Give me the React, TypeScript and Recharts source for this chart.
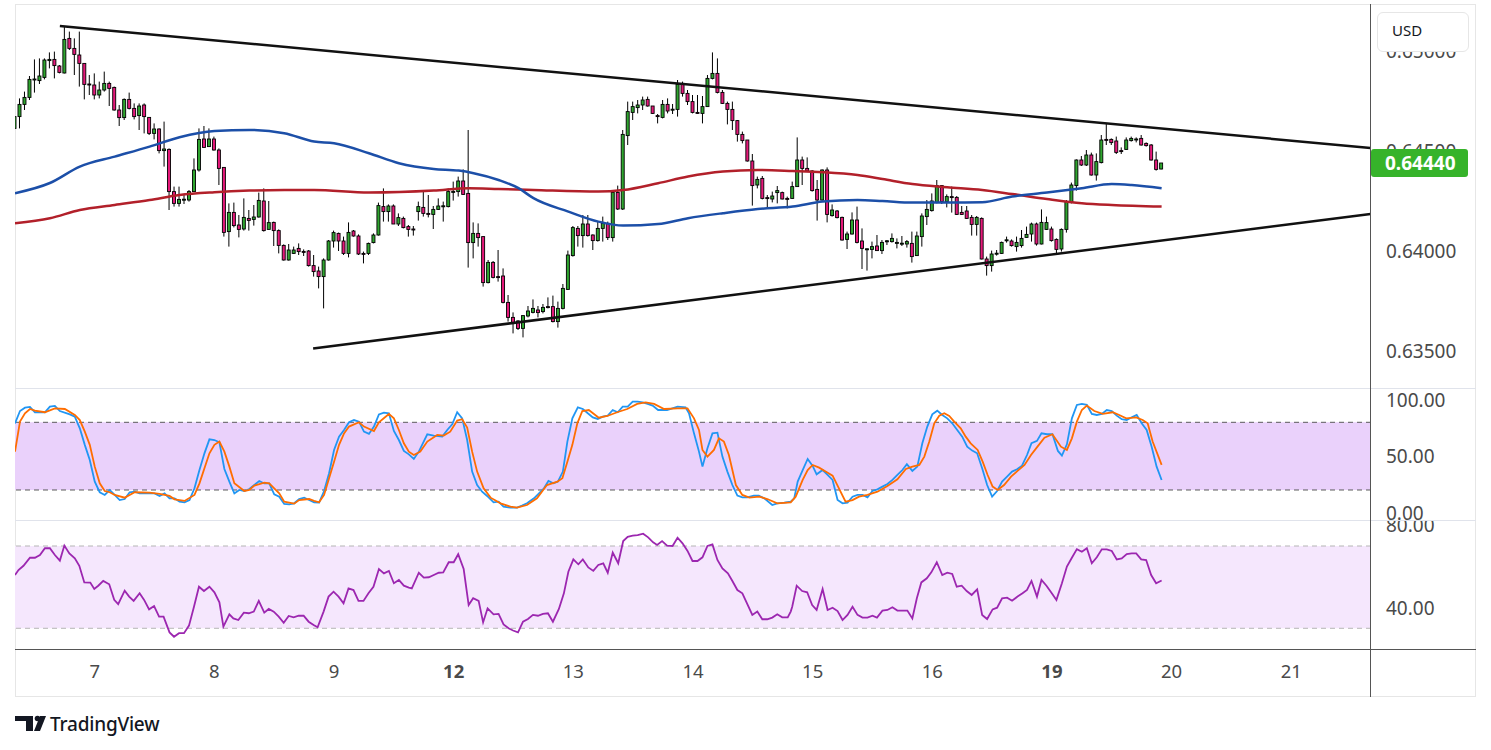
import React from 'react';
import { ComposedChart, Bar, Line, XAxis, YAxis, ReferenceLine, ReferenceArea } from 'recharts';

const FONT = "'Noto Sans', 'DejaVu Sans', sans-serif";
const AXIS_TEXT = '#4a4a4a';
const X_MAX = 272;
const UP = '#2fa52f';
const DOWN = '#e5197a';

// hourly candles: [open, high, low, close]
const candles: [number, number, number, number][] = [
  [0.64613, 0.64705, 0.6458, 0.64672], [0.64672, 0.64763, 0.64613, 0.64733], [0.64733, 0.64797, 0.64705, 0.64768],
  [0.64768, 0.64875, 0.64755, 0.64858], [0.64858, 0.64958, 0.64792, 0.6486], [0.64852, 0.64963, 0.64835, 0.64875],
  [0.64868, 0.64963, 0.64858, 0.64955], [0.64952, 0.64993, 0.64913, 0.64958], [0.64958, 0.64997, 0.64863, 0.64927],
  [0.64925, 0.6493, 0.64888, 0.64893], [0.6489, 0.65122, 0.64888, 0.65058], [0.65063, 0.65097, 0.65005, 0.65013],
  [0.65013, 0.65063, 0.6488, 0.64983], [0.6498, 0.65097, 0.64822, 0.64938], [0.64938, 0.64938, 0.64758, 0.64833],
  [0.64835, 0.6488, 0.6478, 0.64833], [0.6483, 0.64888, 0.64758, 0.6478], [0.6478, 0.64847, 0.64763, 0.64805],
  [0.64805, 0.64897, 0.64797, 0.64838], [0.64838, 0.64847, 0.64725, 0.64813], [0.64818, 0.64822, 0.64702, 0.64705],
  [0.64705, 0.6473, 0.64625, 0.64667], [0.64667, 0.64763, 0.64655, 0.64758], [0.64758, 0.64792, 0.64708, 0.64713],
  [0.64713, 0.64738, 0.64658, 0.64672], [0.64677, 0.64738, 0.64605, 0.64725], [0.6473, 0.64738, 0.64588, 0.64672],
  [0.64668, 0.64668, 0.6458, 0.64588], [0.64588, 0.64638, 0.64558, 0.6461], [0.6461, 0.64613, 0.64488, 0.64502],
  [0.64502, 0.64647, 0.64422, 0.6451], [0.64508, 0.64513, 0.64205, 0.64297], [0.64297, 0.64322, 0.64222, 0.64238],
  [0.64238, 0.64322, 0.64222, 0.64258], [0.64258, 0.6428, 0.64235, 0.64259], [0.64255, 0.64305, 0.64247, 0.64297],
  [0.64297, 0.64463, 0.64297, 0.64405], [0.64405, 0.64613, 0.64397, 0.64558], [0.6456, 0.64625, 0.64518, 0.64518],
  [0.64522, 0.64613, 0.64522, 0.6456], [0.6456, 0.64572, 0.64502, 0.64505], [0.64505, 0.64513, 0.6433, 0.64413],
  [0.64418, 0.64418, 0.64072, 0.64093], [0.64097, 0.64238, 0.64022, 0.64193], [0.64193, 0.64242, 0.64118, 0.64127],
  [0.6413, 0.6418, 0.64068, 0.64108], [0.6411, 0.64263, 0.64102, 0.64168], [0.64163, 0.64205, 0.64102, 0.64153],
  [0.64158, 0.6423, 0.64127, 0.6417], [0.6417, 0.64292, 0.64167, 0.64253], [0.6425, 0.64313, 0.64097, 0.64102],
  [0.64108, 0.6425, 0.64108, 0.64142], [0.64143, 0.64147, 0.64025, 0.64102], [0.64102, 0.64108, 0.63988, 0.64028],
  [0.64028, 0.64033, 0.63952, 0.63955], [0.63955, 0.64035, 0.63952, 0.64005], [0.63988, 0.64022, 0.63985, 0.64005],
  [0.64013, 0.64038, 0.6398, 0.63997], [0.63998, 0.64008, 0.63975, 0.63997], [0.64, 0.64005, 0.63922, 0.63927],
  [0.63927, 0.6398, 0.63872, 0.63897], [0.639, 0.63922, 0.63813, 0.63872], [0.63872, 0.63963, 0.63713, 0.63955],
  [0.63955, 0.64055, 0.63952, 0.6405], [0.6405, 0.64102, 0.64017, 0.64092], [0.64088, 0.64092, 0.64, 0.6405],
  [0.6405, 0.64072, 0.6398, 0.63988], [0.63988, 0.64143, 0.63968, 0.64093], [0.641, 0.64105, 0.64072, 0.64075],
  [0.64075, 0.64083, 0.6398, 0.63985], [0.63988, 0.63997, 0.63938, 0.63987], [0.63988, 0.64042, 0.6398, 0.64038],
  [0.64042, 0.64088, 0.64038, 0.6408], [0.6408, 0.64242, 0.64077, 0.64227], [0.64222, 0.64313, 0.64147, 0.64197],
  [0.64197, 0.64233, 0.64147, 0.64225], [0.64225, 0.64233, 0.64135, 0.64135], [0.64135, 0.64188, 0.64125, 0.64167],
  [0.64163, 0.64172, 0.64113, 0.64117], [0.64122, 0.6413, 0.64072, 0.64108], [0.6411, 0.64125, 0.64077, 0.64108],
  [0.64197, 0.64247, 0.64152, 0.64222], [0.64218, 0.64297, 0.64172, 0.64188], [0.64188, 0.6428, 0.64168, 0.64187],
  [0.64183, 0.64225, 0.6411, 0.64208], [0.64208, 0.64263, 0.64205, 0.64225], [0.64225, 0.64247, 0.64147, 0.64226],
  [0.64222, 0.64313, 0.64218, 0.64297], [0.64297, 0.64347, 0.64252, 0.64298], [0.64297, 0.64372, 0.64272, 0.6435],
  [0.6435, 0.64408, 0.6428, 0.64283], [0.64288, 0.64605, 0.63917, 0.64042], [0.64042, 0.64143, 0.63963, 0.64088],
  [0.64088, 0.64138, 0.64022, 0.64067], [0.64072, 0.64072, 0.63822, 0.63842], [0.63842, 0.63955, 0.63838, 0.63943],
  [0.63943, 0.6395, 0.63863, 0.63868], [0.63872, 0.64005, 0.63847, 0.63871], [0.63875, 0.63913, 0.63738, 0.63743],
  [0.63743, 0.6378, 0.63647, 0.63668], [0.63668, 0.63693, 0.63588, 0.63638], [0.6365, 0.63655, 0.63605, 0.63613],
  [0.63613, 0.6368, 0.63568, 0.63677], [0.63675, 0.63725, 0.63668, 0.637], [0.63693, 0.63758, 0.63688, 0.63713],
  [0.63705, 0.63725, 0.63668, 0.63692], [0.63697, 0.63735, 0.63688, 0.63718], [0.63722, 0.63768, 0.63713, 0.63721],
  [0.63722, 0.63777, 0.63643, 0.63647], [0.63647, 0.63747, 0.63617, 0.63713], [0.63713, 0.63835, 0.63708, 0.63813],
  [0.63808, 0.64002, 0.63805, 0.6398], [0.63977, 0.64125, 0.63972, 0.64117], [0.64113, 0.64125, 0.64022, 0.64077],
  [0.64077, 0.6418, 0.64017, 0.64135], [0.64135, 0.6418, 0.64072, 0.64077], [0.6408, 0.64083, 0.64005, 0.64052],
  [0.64052, 0.64147, 0.64047, 0.64113], [0.64113, 0.64172, 0.64047, 0.64138], [0.64138, 0.64147, 0.64055, 0.64067],
  [0.64067, 0.64297, 0.64047, 0.64293], [0.64293, 0.64327, 0.64205, 0.6421], [0.6421, 0.64605, 0.64205, 0.64583],
  [0.64577, 0.64747, 0.6453, 0.64697], [0.64693, 0.64747, 0.64655, 0.64722], [0.64717, 0.64755, 0.64688, 0.6473],
  [0.6473, 0.64772, 0.64705, 0.64755], [0.64758, 0.64772, 0.64722, 0.64725], [0.64725, 0.64725, 0.64685, 0.64688],
  [0.64677, 0.64685, 0.64638, 0.64676], [0.64668, 0.64755, 0.64663, 0.64733], [0.64733, 0.64763, 0.64688, 0.647],
  [0.64708, 0.64735, 0.64685, 0.64709], [0.64708, 0.64855, 0.64672, 0.64833], [0.64838, 0.64847, 0.64772, 0.64788],
  [0.64788, 0.64805, 0.6473, 0.64747], [0.64747, 0.6478, 0.64688, 0.64693], [0.64693, 0.6478, 0.64685, 0.64692],
  [0.64688, 0.64775, 0.64638, 0.64722], [0.64722, 0.6488, 0.64722, 0.64863], [0.64863, 0.64993, 0.64858, 0.64888],
  [0.64888, 0.64963, 0.64788, 0.64793], [0.64793, 0.64805, 0.64735, 0.64738], [0.64738, 0.64747, 0.64633, 0.64708],
  [0.64708, 0.64747, 0.64605, 0.64652], [0.64652, 0.64655, 0.64547, 0.64583], [0.64583, 0.64597, 0.64538, 0.64552],
  [0.64555, 0.64555, 0.64447, 0.6445], [0.6445, 0.64485, 0.64227, 0.64327], [0.6433, 0.64372, 0.64313, 0.64358],
  [0.64363, 0.64375, 0.64258, 0.64263], [0.64267, 0.6428, 0.64218, 0.64266], [0.6426, 0.64297, 0.64243, 0.64275],
  [0.64292, 0.64325, 0.64238, 0.64302], [0.64292, 0.64297, 0.64258, 0.6426], [0.64263, 0.64272, 0.64213, 0.64262],
  [0.64263, 0.64347, 0.6426, 0.64322], [0.64322, 0.64568, 0.64322, 0.64455], [0.64455, 0.64472, 0.6433, 0.64413],
  [0.64413, 0.64468, 0.64397, 0.644], [0.644, 0.64405, 0.64297, 0.64302], [0.64308, 0.64355, 0.64152, 0.64255],
  [0.64255, 0.64408, 0.64252, 0.64405], [0.64405, 0.64418, 0.64143, 0.64183], [0.64177, 0.64233, 0.64172, 0.64205],
  [0.642, 0.64205, 0.64163, 0.64167], [0.64168, 0.64172, 0.64052, 0.64055], [0.64058, 0.64097, 0.6401, 0.64085],
  [0.64085, 0.64193, 0.64082, 0.64155], [0.64155, 0.64222, 0.64038, 0.64043], [0.6405, 0.64113, 0.6391, 0.64013],
  [0.6401, 0.64013, 0.63902, 0.64011], [0.64008, 0.64047, 0.63963, 0.64022], [0.64025, 0.6408, 0.64, 0.64002],
  [0.64002, 0.64055, 0.63985, 0.64043], [0.6405, 0.64055, 0.6403, 0.64051], [0.64047, 0.64088, 0.64042, 0.64063],
  [0.64042, 0.64063, 0.64013, 0.64043], [0.64038, 0.64075, 0.64025, 0.64039], [0.64035, 0.64055, 0.64017, 0.64047],
  [0.64038, 0.64097, 0.63942, 0.63972], [0.63977, 0.64097, 0.63975, 0.64075], [0.64072, 0.64188, 0.64022, 0.64175],
  [0.64172, 0.64255, 0.6413, 0.64208], [0.64202, 0.64288, 0.64197, 0.6425], [0.64243, 0.64355, 0.64238, 0.64327],
  [0.64327, 0.6433, 0.64235, 0.64247], [0.64247, 0.64283, 0.64218, 0.64272], [0.64272, 0.64322, 0.64192, 0.64271],
  [0.64268, 0.64275, 0.6418, 0.64183], [0.64193, 0.64225, 0.6418, 0.64183], [0.642, 0.64225, 0.6416, 0.64163],
  [0.64168, 0.6418, 0.64077, 0.64133], [0.64133, 0.64175, 0.64077, 0.64168], [0.64163, 0.64168, 0.63958, 0.6396],
  [0.6396, 0.63972, 0.63877, 0.63927], [0.63927, 0.64002, 0.63897, 0.63985], [0.63988, 0.64005, 0.63977, 0.63989],
  [0.63988, 0.64047, 0.63985, 0.64043], [0.64055, 0.64072, 0.64042, 0.64056], [0.6405, 0.64058, 0.64022, 0.64027],
  [0.64022, 0.64072, 0.63997, 0.64043], [0.64027, 0.64105, 0.64017, 0.64063], [0.64068, 0.64122, 0.64067, 0.64083],
  [0.64085, 0.64142, 0.64047, 0.64135], [0.64135, 0.64142, 0.64027, 0.64035], [0.64035, 0.64208, 0.64033, 0.64143],
  [0.64108, 0.64172, 0.64105, 0.64142], [0.6411, 0.64122, 0.64047, 0.64052], [0.64058, 0.64063, 0.6398, 0.64008],
  [0.6401, 0.64113, 0.63997, 0.64108], [0.64108, 0.64255, 0.64092, 0.64247], [0.64247, 0.64342, 0.64238, 0.6433],
  [0.64327, 0.64458, 0.64302, 0.64455], [0.64455, 0.64475, 0.64425, 0.6443], [0.6443, 0.64505, 0.64425, 0.6448],
  [0.6448, 0.64492, 0.64377, 0.6438], [0.6438, 0.64488, 0.64352, 0.64447], [0.64442, 0.6458, 0.64438, 0.64555],
  [0.64558, 0.64635, 0.6453, 0.64557], [0.64558, 0.64563, 0.6453, 0.64542], [0.6455, 0.64572, 0.64485, 0.64493],
  [0.64502, 0.64518, 0.64485, 0.64501], [0.64508, 0.64568, 0.64505, 0.64555], [0.64552, 0.64572, 0.64547, 0.64563],
  [0.6456, 0.64568, 0.64543, 0.6456], [0.64563, 0.6458, 0.64527, 0.6453], [0.64538, 0.64543, 0.64522, 0.64527],
  [0.6453, 0.64535, 0.64452, 0.64455], [0.64455, 0.64497, 0.64402, 0.64408], [0.6441, 0.6444, 0.64408, 0.6444],
];

const LAST_PRICE = 0.6444;

// moving averages, [candle index, value]
const blueMa: [number, number][] = [
  [0, 0.64289], [7, 0.6434], [13, 0.64422], [20, 0.64472], [27, 0.64522], [33, 0.64569], [40, 0.646], [47, 0.64605],
  [54, 0.64589], [60, 0.64547], [64, 0.64539], [71, 0.64489], [77, 0.64439], [84, 0.6441], [89, 0.64402], [92, 0.64389],
  [97, 0.64355], [101, 0.64314], [104, 0.64264], [111, 0.64197], [117, 0.64147], [122, 0.64127], [129, 0.64135],
  [135, 0.64164], [142, 0.64189], [149, 0.6421], [156, 0.64222], [162, 0.64247], [169, 0.64255], [174, 0.6425],
  [180, 0.64242], [187, 0.64242], [194, 0.64244], [200, 0.64272], [207, 0.64292], [214, 0.64314], [220, 0.64335],
  [224, 0.6433], [230, 0.64314],
];
const redMa: [number, number][] = [
  [0, 0.64139], [7, 0.64164], [13, 0.64205], [20, 0.6423], [27, 0.64255], [33, 0.6428], [40, 0.64294], [47, 0.64302],
  [54, 0.64305], [60, 0.64305], [71, 0.64292], [84, 0.64302], [91, 0.64314], [97, 0.6431], [104, 0.64305], [117, 0.64297],
  [122, 0.64305], [129, 0.64339], [135, 0.64372], [142, 0.64397], [149, 0.64405], [156, 0.644], [162, 0.64394],
  [169, 0.6438], [174, 0.6436], [180, 0.64335], [187, 0.64319], [194, 0.64305], [200, 0.64285], [207, 0.6426],
  [214, 0.64239], [220, 0.6423], [230, 0.64222],
];

// triangle trendlines: [index, price] start / end
const upperTrend: [number, number][] = [[9, 0.65125], [271.9, 0.64515]];
const lowerTrend: [number, number][] = [[59.8, 0.63513], [271.9, 0.64185]];

const priceTicks = [0.635, 0.64, 0.645, 0.65];

// stochastic %K / %D
const stochK: [number, number][] = [
  [0, 79], [1, 90], [2, 93], [3, 93.6], [4, 88.9], [6, 88.9], [7, 93.9], [8, 94.5], [9, 90], [11, 87], [12, 85], [13, 74.7],
  [14, 60], [15, 46.6], [16, 27.4], [17, 18], [18, 15.6], [19, 20], [20, 15.6], [21, 11.1], [22, 12], [23, 18], [24, 18.5],
  [25, 17], [26, 17], [28, 17], [29, 14.7], [30, 17], [31, 12.6], [32, 12.6], [33, 9.7], [34, 9.1], [35, 11.1], [36, 21.5],
  [37, 37.7], [38, 52.5], [39, 64.9], [40, 64.3], [41, 62.3], [42, 38.6], [43, 27.4], [44, 17], [45, 20], [46, 19.1],
  [47, 20.9], [48, 24.4], [49, 28], [50, 25.8], [51, 25.8], [52, 16.2], [53, 14.1], [54, 7.6], [55, 7.3], [56, 8.2],
  [57, 12], [58, 13.2], [59, 11.1], [60, 9.1], [61, 8.8], [62, 19.1], [63, 34.8], [64, 55.5], [65, 67.3], [66, 73.2],
  [67, 80], [68, 82], [69, 80.6], [70, 71.7], [71, 69.7], [72, 76.2], [73, 87], [74, 88.6], [75, 88], [76, 72.3],
  [77, 64.3], [78, 54.6], [79, 51.6], [80, 47.5], [81, 54], [82.7, 69.4], [84, 68.2], [85.7, 67.3], [86.7, 73.2],
  [87.7, 78.2], [88.7, 88.9], [89.7, 83.5], [90.7, 64.3], [91.7, 36.3], [92.7, 24.4], [93.7, 18.5], [94.7, 14.7],
  [96, 9.1], [97, 9.7], [98, 5.2], [99.4, 4.3], [100.7, 4.3], [101.7, 6.1], [102.7, 8.2], [104.1, 12.6], [105.1, 17],
  [106.1, 21.5], [107, 28], [108, 25.9], [108.9, 27.4], [109.9, 36.3], [110.8, 62.9], [111.8, 83.5], [112.9, 93.3],
  [113.9, 91.8], [114.9, 88], [115.9, 84.4], [116.9, 83], [117.9, 85], [118.9, 85.9], [119.9, 90.9], [120.9, 88.9],
  [121.9, 93.9], [122.9, 93.9], [123.9, 98.3], [124.9, 98.3], [125.9, 97.7], [126.9, 96.3], [127.9, 94.8], [129, 90.9],
  [130.8, 90.9], [132.9, 93.9], [134.5, 93.3], [135.2, 88], [136.2, 70.2], [137.2, 54], [137.9, 40.7], [138.9, 57],
  [139.9, 70.2], [140.9, 70.8], [141.9, 49.6], [142.9, 36.3], [143.9, 24.4], [144.9, 15], [145.9, 13.5], [146.9, 13.5],
  [148.2, 15], [149.2, 15], [150.3, 12.6], [151.9, 6.7], [152.9, 8.2], [154.3, 8.8], [155.6, 9.7], [156.3, 12.6],
  [157, 27.4], [158, 37.7], [159, 47.5], [160, 41.3], [160.8, 33.9], [162, 37.7], [163, 33.3], [164, 28.9], [165, 11.1],
  [166, 8.2], [167, 8.8], [168, 14.1], [169, 15.6], [170, 15.6], [171, 13.5], [172, 19.1], [173, 20.6], [174, 23],
  [175, 25.3], [176, 28.9], [177, 33.3], [178, 37.7], [178.9, 42.8], [180, 36.9], [181, 40.7], [182, 61.4], [183, 76.2],
  [184, 87.1], [185, 90.3], [186, 86.5], [187, 83.5], [188, 79.1], [189, 73.2], [190, 67.3], [191, 58.4], [192, 54.9],
  [193, 52.5], [194, 39.2], [195, 24.4], [196, 14.1], [197, 19.1], [198, 27.4], [199, 31.8], [200, 36.3], [201, 38.3],
  [202, 41.6], [203, 51], [203.9, 61.4], [205, 63.5], [205.9, 70.2], [207, 69.4], [208.1, 69.4], [209.2, 54.6],
  [210, 50.5], [211, 60.5], [212, 83.5], [213, 95.4], [214, 96.3], [215, 95.4], [216, 87.4], [217, 86.5], [218, 87.4],
  [219, 90.9], [220, 90], [221, 85.9], [222, 82.7], [223, 82], [224, 84.4], [225, 86.5], [226, 79.1], [227, 73.2],
  [228, 58.4], [229, 40.7], [230, 28.9],
];
const stochD: [number, number][] = [
  [0, 54], [1, 80.6], [2, 88], [3, 91.8], [4, 90.3], [6, 88.9], [8, 92.4], [10, 91.8], [12, 86.5], [13, 82], [14, 71.7],
  [15, 60], [16, 40.7], [17, 25.9], [18, 19.1], [19, 18], [20, 15.6], [22, 13.2], [23, 15.6], [24, 18], [27, 17.7],
  [29, 16.5], [31, 14.7], [32, 11.7], [34, 10.3], [36, 15.6], [37, 25.9], [38, 39.2], [39, 52.5], [40, 60], [41, 62.9],
  [42, 54], [43, 40.7], [44, 25.9], [46, 19.1], [47, 20], [48, 23.9], [50, 26.5], [51, 25.8], [52, 21.5], [53, 17],
  [54, 9.7], [56, 7.9], [57, 11.1], [59, 12], [60, 10.3], [61, 9.1], [62, 15.6], [63, 30.4], [64, 45.1], [65, 60],
  [66, 70.2], [67, 76.2], [69, 80], [70, 76.2], [72, 72.3], [73, 80], [75, 87.4], [76, 83.5], [77, 73.2], [78, 61.4],
  [79, 54], [80, 51], [81.3, 54], [82.7, 62.9], [84.7, 68.8], [86, 68.2], [87.3, 71.7], [88.7, 81.5], [89.7, 82.7],
  [90.7, 75.3], [91.7, 54], [92.7, 36.3], [94, 21.5], [95.4, 13.2], [97.4, 8.2], [99.4, 5.2], [100.7, 4.3], [102.7, 6.7],
  [104.7, 12.6], [106.7, 24.4], [108.8, 27.4], [109.8, 30.4], [110.8, 45.1], [111.8, 60], [112.8, 79.1], [113.8, 90],
  [115.1, 90.9], [117.1, 84.1], [118.8, 85.6], [120.8, 88.9], [122.8, 91.8], [124.8, 96.3], [126.5, 97.7],
  [128.2, 96.3], [130.2, 91.8], [132.9, 92.4], [134.9, 92.4], [136.2, 83.5], [137.2, 73.2], [137.9, 55.5],
  [138.9, 49.6], [140.2, 55.5], [141.2, 65.8], [142.2, 62.9], [143.2, 51], [144.6, 24.4], [145.9, 15.6], [147.3, 13.2],
  [149.3, 14.1], [150.9, 12], [152.9, 8.2], [155.6, 9.1], [156.6, 14.1], [158, 28.9], [159, 37.7], [160, 42.2],
  [161.3, 39.8], [162.6, 36.3], [164, 32.7], [165, 23.9], [166.6, 9.7], [168, 11.1], [169.3, 14.1], [171, 15.6],
  [173, 18.5], [175, 23.6], [177, 29.5], [178.7, 38.6], [180, 40.7], [181.4, 42.2], [182.4, 49.6], [183.4, 62.9],
  [184.4, 79.1], [185.4, 85.9], [186.4, 88], [187.4, 85.6], [188.4, 80.6], [189.7, 74.7], [190.7, 67.3], [191.7, 61.4],
  [193.1, 55.5], [194.1, 45.1], [195.1, 33.3], [196.1, 23], [197.1, 20], [198.4, 24.4], [199.8, 31.8], [201.1, 36.9],
  [202.5, 42.2], [203.8, 51], [205.1, 58.4], [206.5, 66.4], [208.1, 69.4], [209.8, 58.4], [211, 55.5], [212, 65.8],
  [213, 80.6], [214, 90.9], [215, 94.8], [216.5, 90], [218.2, 87.4], [220.2, 88.9], [221.5, 86.5], [222.9, 83.5],
  [224.9, 84.4], [226.2, 82], [227.2, 79.1], [228.2, 62.9], [230, 42.2],
];
const stochTicks = [0, 50, 100];

// RSI
const rsi: [number, number][] = [
  [0, 55.9], [0.7, 58.3], [1.7, 60.4], [3, 64.3], [4, 64.3], [5, 65.6], [6, 68.9], [7, 68.9], [8, 65.6], [9, 62.9],
  [9.9, 70.2], [10.9, 66.4], [12, 64], [12.9, 60.4], [13.9, 52.3], [15.1, 52.2], [15.9, 49.1], [16.7, 50.7], [17.7, 53],
  [18.9, 51.4], [19.9, 43.8], [20.7, 41.7], [22, 48.3], [22.9, 45.4], [23.8, 43.3], [25, 47], [25.9, 43.8], [26.9, 39.2],
  [27.9, 40.8], [28.9, 35.7], [29.8, 35.7], [31, 28], [31.9, 25.9], [32.9, 27.6], [33.9, 27.6], [34.9, 31.3],
  [35.9, 40.5], [36.9, 50.2], [37.9, 48.1], [39, 50.2], [40, 47.5], [41, 42.6], [41.8, 30.8], [43, 36.8], [43.8, 34.8],
  [44.8, 34], [45.9, 37.6], [46.9, 37.3], [47.9, 38.1], [48.9, 43.3], [50, 37.6], [50.9, 39.4], [51.9, 38.1],
  [52.9, 35.7], [53.9, 32.7], [54.9, 36], [55.9, 35.3], [56.9, 36.1], [57.9, 36.1], [58.9, 33.2], [59.9, 31.6],
  [60.7, 30.5], [61.9, 38.1], [62.9, 45.4], [63.9, 47.8], [64.9, 45.4], [65.9, 42.1], [66.9, 49.4], [67.9, 48.6],
  [68.9, 43.3], [69.9, 43.3], [70.9, 47], [71.9, 50.2], [73, 58.8], [74, 56.7], [75, 57.9], [76, 51.9], [77, 53.5],
  [78, 50.7], [79, 49.8], [79.6, 49.4], [81, 57], [82, 54.6], [83, 54.8], [84, 55.9], [85, 57], [85.9, 57.2], [87, 62.1],
  [88, 62.1], [88.9, 66], [90, 58.8], [91, 41.3], [91.9, 44.6], [93, 43.3], [93.9, 32.9], [94.8, 39.7], [96, 36.8],
  [97, 37], [98, 31.9], [99, 30], [99.9, 28.9], [100.9, 28], [101.9, 33.2], [102.9, 34.5], [103.9, 36.5], [104.9, 36.1],
  [105.9, 37], [106.9, 37.3], [107.9, 33.2], [109.1, 39.4], [110.1, 47], [111, 57.5], [112, 63.5], [113, 61.1],
  [113.9, 63.5], [115, 59.6], [116, 57.9], [117, 60.8], [118, 61.6], [118.9, 57], [119.9, 66.8], [121, 61.6],
  [122, 72.4], [122.9, 74.5], [123.9, 75], [124.9, 75.3], [126, 76], [127, 74.2], [128, 71.8], [128.8, 70.5],
  [129.8, 72.4], [130.8, 70.2], [131.9, 70], [132.9, 74], [133.9, 71.3], [134.9, 67.6], [135.9, 62.7], [136.9, 62.7],
  [137.9, 64.5], [138.9, 70], [139.9, 70.8], [140.9, 63.2], [141.9, 59.1], [143, 56.7], [143.9, 53], [144.9, 48.6],
  [145.9, 47], [146.9, 41.7], [147.9, 36.5], [148.9, 38.1], [149.9, 34.4], [150.9, 34.4], [151.9, 35.2], [152.9, 36.8],
  [153.9, 35.3], [155, 35.3], [155.6, 38.1], [155.9, 40.5], [156.8, 50.7], [157.9, 48.1], [158.9, 47.5], [159.9, 41.3],
  [160.8, 38.9], [162, 49.1], [163, 38.9], [164, 40], [165, 38.4], [166, 34], [167, 36.5], [168, 40.5], [169, 36.5],
  [170, 35.2], [171, 35.2], [172, 36.1], [172.9, 35.2], [174, 38.6], [175, 38.9], [176, 40.2], [177, 38.6], [178, 38.6],
  [179, 38.6], [180, 34.8], [180.9, 44.6], [181.8, 52.3], [182.9, 54.3], [183.8, 57.2], [184.9, 62.1], [186, 55.9],
  [187, 57], [188, 56.4], [188.9, 50.2], [189.9, 50.7], [190.9, 48.1], [191.9, 46.2], [193, 48.9], [194, 36.5],
  [195, 34.5], [196.1, 39.2], [197, 40], [198, 44.6], [199, 44.9], [200, 43.4], [201.1, 45.4], [202.1, 47], [203, 48.6],
  [203.9, 53], [205, 45.4], [205.9, 53.5], [206.9, 50.7], [207.9, 47.3], [208.9, 43.8], [210, 51.9], [211, 60],
  [212, 64.3], [213, 68.5], [214, 67.2], [215, 68.9], [216, 61.6], [217, 64.5], [218, 68.4], [219, 68.4], [220, 67.6],
  [221, 63.5], [222, 64], [223, 66.1], [224, 66.4], [224.9, 66.4], [225.9, 63.5], [226.9, 63.2], [227.9, 55.9],
  [228.9, 51.9], [230, 53.2],
];
const rsiTicks = [40, 80];

// day labels sit on the midnight candle
const dayTicks = [16, 40, 64, 88, 112, 136, 160, 184, 208, 232, 256];
const dayLabels = ['7', '8', '9', '12', '13', '14', '15', '16', '19', '20', '21'];
const weekStarts = ['12', '19'];

const priceRows: any[] = candles.map(([open, high, low, close], i) => ({ i, open, high, low, close, blue: null, red: null }));
blueMa.forEach(([i, v]) => { priceRows[i].blue = v; });
redMa.forEach(([i, v]) => { priceRows[i].red = v; });

function mergeSeries(series: Record<string, [number, number][]>) {
  const rows = new Map<number, any>();
  Object.entries(series).forEach(([key, pts]) => {
    pts.forEach(([i, v]) => {
      const row = rows.get(i) ?? { i };
      row[key] = v;
      rows.set(i, row);
    });
  });
  return Array.from(rows.values()).sort((a, b) => a.i - b.i);
}
const stochRows = mergeSeries({ k: stochK, d: stochD });
const rsiRows = mergeSeries({ rsi });

const Candle = (props: any) => {
  const { x, y, width, height, payload } = props;
  if (!payload || payload.open == null) return null;
  const { open, high, low, close } = payload;
  const top = Math.min(y, y + height);
  const h = Math.abs(height);
  const ppu = high > low ? h / (high - low) : 0;
  const yOf = (v: number) => top + (high - v) * ppu;
  const cx = x + width / 2;
  const bTop = yOf(Math.max(open, close));
  const bH = Math.max(1, yOf(Math.min(open, close)) - bTop);
  return (
    <g>
      <line x1={cx} x2={cx} y1={top} y2={top + h} stroke="#000" strokeWidth={1} />
      <rect x={cx - 1.5} y={bTop} width={3} height={bH} fill={close >= open ? UP : DOWN} stroke="#000" strokeWidth={0.9} />
    </g>
  );
};

const PriceTick = (props: any) => {
  const { x, y, payload } = props;
  const v = payload.value;
  if (v === LAST_PRICE) {
    return (
      <g>
        <rect x={x - 15} y={y - 14} width={97} height={28} rx={3} fill="#36b32a" />
        <text x={x - 1} y={y} dy={7} fill="#fff" fontSize={19} fontWeight={700} fontFamily={FONT}>{v.toFixed(5)}</text>
      </g>
    );
  }
  return <text x={x} y={y} dy={7} fill={AXIS_TEXT} fontSize={19} fontFamily={FONT}>{v.toFixed(5)}</text>;
};

const ValueTick = (props: any) => {
  const { x, y, payload } = props;
  return <text x={x} y={y} dy={7} fill={AXIS_TEXT} fontSize={19} fontFamily={FONT}>{Number(payload.value).toFixed(2)}</text>;
};

const DayTick = (props: any) => {
  const { x, y, payload } = props;
  const label = dayLabels[dayTicks.indexOf(payload.value)];
  const bold = weekStarts.includes(label);
  return (
    <text x={x} y={y + 29} textAnchor="middle" fill={AXIS_TEXT} fontSize={18.5} fontWeight={bold ? 700 : 400} fontFamily={FONT}>
      {label}
    </text>
  );
};

const line = (style: React.CSSProperties): React.CSSProperties => ({ position: 'absolute', ...style });

export default function App() {
  const W = 1461;
  return (
    <div style={{ position: 'absolute', left: 0, top: 0, width: 1491, height: 750, background: '#fff', fontFamily: FONT, overflow: 'hidden' }}>
      <div style={line({ left: 15, top: 4, width: W, height: 693, border: '1px solid #e6e6e6', boxSizing: 'border-box' })} />

      <div style={line({ left: 15, top: 3 })}>
        <ComposedChart width={W} height={385} data={priceRows} margin={{ top: 0, right: 0, bottom: 0, left: 0 }}>
          <XAxis dataKey="i" type="number" domain={[0, X_MAX]} allowDataOverflow hide />
          <YAxis orientation="right" width={105} type="number" domain={[0.63315, 0.6524]} allowDataOverflow
            ticks={[...priceTicks, LAST_PRICE]} interval={0} axisLine={false} tickLine={false} tickSize={0} tickMargin={15}
            tick={<PriceTick />} />
          <Line dataKey="red" type="monotone" stroke="#b2202a" strokeWidth={2.5} dot={false} connectNulls isAnimationActive={false} />
          <Line dataKey="blue" type="monotone" stroke="#1c4fa8" strokeWidth={2.5} dot={false} connectNulls isAnimationActive={false} />
          <Bar dataKey={(d: any) => [d.low, d.high]} barSize={4} shape={<Candle />} isAnimationActive={false} />
          <ReferenceLine segment={upperTrend.map(([x, y]) => ({ x, y }))} stroke="#111" strokeWidth={2.5} ifOverflow="visible" />
          <ReferenceLine segment={lowerTrend.map(([x, y]) => ({ x, y }))} stroke="#111" strokeWidth={2.5} ifOverflow="visible" />
        </ComposedChart>
      </div>

      <div style={line({ left: 15, top: 388 })}>
        <ComposedChart width={W} height={132} data={stochRows} margin={{ top: 0, right: 0, bottom: 0, left: 0 }}>
          <XAxis dataKey="i" type="number" domain={[0, X_MAX]} allowDataOverflow hide />
          <YAxis orientation="right" width={105} type="number" domain={[-6.6, 110.4]} allowDataOverflow
            ticks={stochTicks} interval={0} axisLine={false} tickLine={false} tickSize={0} tickMargin={15} tick={<ValueTick />} />
          <ReferenceArea y1={20} y2={80} fill="#ead1fb" fillOpacity={1} stroke="none" ifOverflow="visible" />
          <ReferenceLine y={80} stroke="#5a5a5a" strokeDasharray="5 4" />
          <ReferenceLine y={20} stroke="#5a5a5a" strokeDasharray="5 4" />
          <Line dataKey="k" type="linear" stroke="#2196f3" strokeWidth={1.8} dot={false} connectNulls isAnimationActive={false} />
          <Line dataKey="d" type="linear" stroke="#ff6d00" strokeWidth={1.8} dot={false} connectNulls isAnimationActive={false} />
        </ComposedChart>
      </div>

      <div style={line({ left: 15, top: 520 })}>
        <ComposedChart width={W} height={177} data={rsiRows} margin={{ top: 0, right: 0, bottom: 0, left: 0 }}>
          <XAxis dataKey="i" type="number" domain={[0, X_MAX]} allowDataOverflow height={48} ticks={dayTicks} interval={0}
            axisLine={false} tickLine={false} tickSize={0} tickMargin={0} tick={<DayTick />} />
          <YAxis orientation="right" width={105} type="number" domain={[19.93, 82.64]} allowDataOverflow
            ticks={rsiTicks} interval={0} axisLine={false} tickLine={false} tickSize={0} tickMargin={15} tick={<ValueTick />} />
          <ReferenceArea y1={30} y2={70} fill="#f5e7fd" fillOpacity={1} stroke="none" ifOverflow="visible" />
          <ReferenceLine y={70} stroke="#b5b5b5" strokeDasharray="5 4" />
          <ReferenceLine y={30} stroke="#b5b5b5" strokeDasharray="5 4" />
          <Line dataKey="rsi" type="linear" stroke="#9c27b0" strokeWidth={1.8} dot={false} connectNulls isAnimationActive={false} />
        </ComposedChart>
      </div>

      <div style={line({ left: 15, top: 388, width: W, height: 1, background: '#e0e3eb' })} />
      <div style={line({ left: 15, top: 520, width: W, height: 1, background: '#e0e3eb' })} />
      <div style={line({ left: 15, top: 649, width: W, height: 1, background: '#555' })} />
      <div style={line({ left: 1370, top: 4, width: 1, height: 693, background: '#555' })} />

      <div style={line({ left: 1377, top: 12, width: 92, height: 40, border: '1px solid #e6e6e6', borderRadius: 6, background: '#fff', boxSizing: 'border-box', fontSize: 15, color: '#131722', paddingLeft: 14, lineHeight: '34px' })}>
        USD
      </div>

      <svg style={line({ left: 15, top: 714 })} width={32} height={18}>
        <path d="M0 2 H18 V17 H11 V7 H0 Z" fill="#131722" />
        <circle cx={22.5} cy={4.5} r={2.8} fill="#131722" />
        <path d="M25 2 H31 L25 17 H19 Z" fill="#131722" />
      </svg>
      <div style={line({ left: 50, top: 711, fontSize: 19, fontWeight: 500, color: '#131722', letterSpacing: -0.2 })}>TradingView</div>
    </div>
  );
}
